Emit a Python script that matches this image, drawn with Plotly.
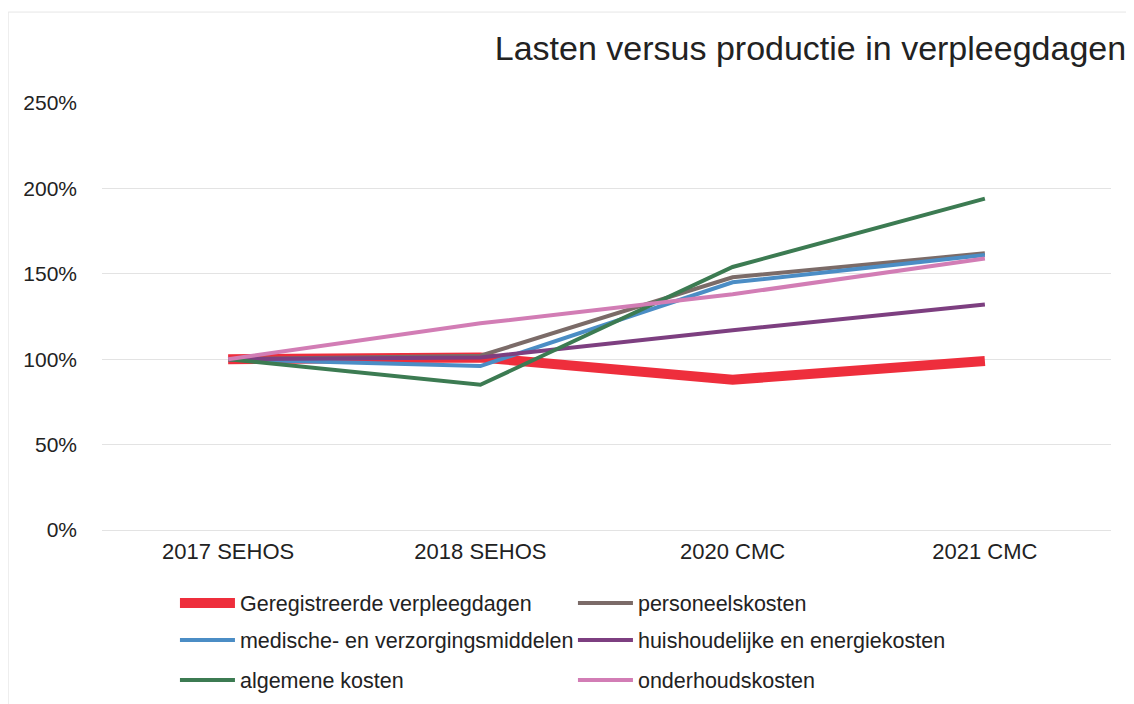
import plotly.graph_objects as go

categories = ["2017 SEHOS", "2018 SEHOS", "2020 CMC", "2021 CMC"]

series_names = [
    "Geregistreerde verpleegdagen",
    "personeelskosten",
    "medische- en verzorgingsmiddelen",
    "huishoudelijke en energiekosten",
    "algemene kosten",
    "onderhoudskosten",
]
verpleegdagen = [100, 101, 88, 99]
personeelskosten = [100, 102, 148, 162]
medische = [100, 96, 145, 161]
huishoudelijke = [100, 101, 117, 132]
algemene = [100, 85, 154, 194]
onderhoud = [100, 121, 138, 159]

y_ticks = [0, 50, 100, 150, 200, 250]
y_tick_labels = ["0%", "50%", "100%", "150%", "200%", "250%"]

series_values = [verpleegdagen, personeelskosten, medische, huishoudelijke, algemene, onderhoud]
colors = ["#EE2E3C", "#7B6B68", "#4B8DC5", "#7D3F80", "#3C7B52", "#D27DB5"]
widths = [10, 4, 4, 4, 4, 4]
legend_ids = ["legend", "legend", "legend2", "legend2", "legend3", "legend3"]

fig = go.Figure()
for name, vals, c, w, lg in zip(series_names, series_values, colors, widths, legend_ids):
    fig.add_trace(go.Scatter(
        x=categories, y=vals, name=name, mode="lines",
        line=dict(color=c, width=w), legend=lg,
    ))

FONT = "Liberation Sans, Arial, sans-serif"
leg_common = dict(orientation="h", x=0.0723, xanchor="left", yanchor="middle",
                  yref="container",
                  entrywidth=328, entrywidthmode="pixels", itemwidth=55,
                  font=dict(size=21.5, family=FONT, color="#222222"),
                  bgcolor="rgba(0,0,0,0)")

fig.update_layout(
    width=1126, height=696,
    margin=dict(l=94, r=23, t=95, b=174),
    paper_bgcolor="white", plot_bgcolor="white",
    font=dict(family=FONT, size=21, color="#222222"),
    title=dict(text="Lasten versus productie in verpleegdagen",
               x=0.993, xanchor="right", xref="container",
               y=0.9425, yanchor="middle", yref="container",
               font=dict(size=34, color="#222222")),
    showlegend=True,
    legend=dict(y=0.1451, **leg_common),
    legend2=dict(y=0.0920, **leg_common),
    legend3=dict(y=0.0345, **leg_common),
    xaxis=dict(type="category", range=[-0.5, 3.5], showgrid=False, showline=False,
               zeroline=False, ticks="", tickfont=dict(size=22), ticklabelstandoff=6),
    yaxis=dict(range=[0, 250], tickvals=y_ticks, ticktext=y_tick_labels,
               showgrid=True, gridcolor="#e3e3e3", gridwidth=1,
               zeroline=True, zerolinecolor="#e3e3e3", zerolinewidth=1,
               showline=False, ticks="", ticklabelstandoff=24, tickfont=dict(size=21)),
)

# faint outer chart frame
fig.add_shape(type="line", xref="paper", yref="paper", x0=-0.093, x1=1.03, y0=1.213, y1=1.213,
              line=dict(color="#e6e6e6", width=1))
fig.add_shape(type="line", xref="paper", yref="paper", x0=-0.093, x1=-0.093, y0=1.213, y1=-0.42,
              line=dict(color="#e6e6e6", width=1))

fig.write_html("out.html")
